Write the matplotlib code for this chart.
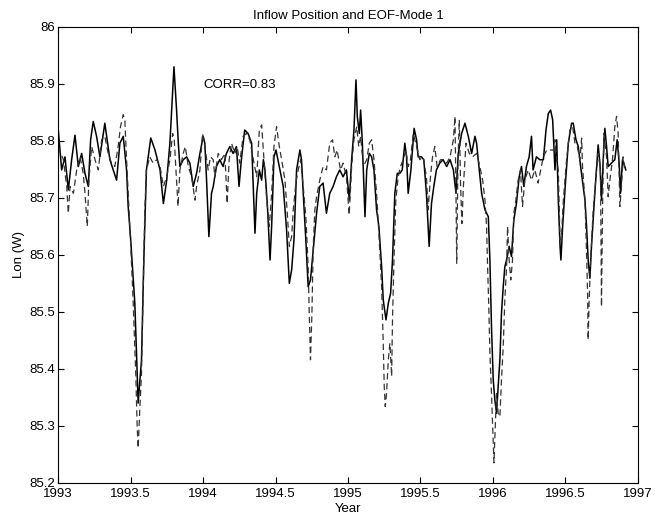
import matplotlib
matplotlib.use("Agg")
import matplotlib.pyplot as plt
import numpy as np

plt.rcParams['font.family'] = ['Liberation Sans', 'DejaVu Sans']

# inflow position (solid line)
inflow_year = [
    1993.000, 1993.024, 1993.047, 1993.070, 1993.093, 1993.116, 1993.139, 1993.162,
    1993.185, 1993.208, 1993.224, 1993.242, 1993.265, 1993.288, 1993.322, 1993.357,
    1993.403, 1993.426, 1993.449, 1993.472, 1993.483, 1993.499, 1993.529, 1993.552,
    1993.575, 1993.591, 1993.609, 1993.639, 1993.668, 1993.703, 1993.726, 1993.749,
    1993.771, 1993.799, 1993.817, 1993.829, 1993.840, 1993.863, 1993.886, 1993.909,
    1993.932, 1993.955, 1993.978, 1994.001, 1994.012, 1994.024, 1994.040, 1994.058,
    1994.070, 1994.092, 1994.115, 1994.138, 1994.161, 1994.184, 1994.207, 1994.230,
    1994.248, 1994.264, 1994.287, 1994.310, 1994.335, 1994.358, 1994.370, 1994.388,
    1994.404, 1994.416, 1994.427, 1994.443, 1994.462, 1994.473, 1994.489, 1994.503,
    1994.530, 1994.553, 1994.576, 1994.595, 1994.611, 1994.627, 1994.645, 1994.668,
    1994.679, 1994.691, 1994.709, 1994.725, 1994.741, 1994.760, 1994.783, 1994.805,
    1994.828, 1994.851, 1994.874, 1994.897, 1994.920, 1994.943, 1994.966, 1994.989,
    1995.009, 1995.025, 1995.041, 1995.055, 1995.064, 1995.078, 1995.087, 1995.099,
    1995.117, 1995.129, 1995.147, 1995.163, 1995.179, 1995.197, 1995.213, 1995.232,
    1995.243, 1995.262, 1995.278, 1995.294, 1995.307, 1995.323, 1995.340, 1995.358,
    1995.374, 1995.392, 1995.404, 1995.415, 1995.434, 1995.456, 1995.473, 1995.484,
    1995.507, 1995.523, 1995.541, 1995.560, 1995.576, 1995.592, 1995.610, 1995.633,
    1995.656, 1995.681, 1995.704, 1995.727, 1995.745, 1995.761, 1995.784, 1995.807,
    1995.830, 1995.853, 1995.876, 1995.887, 1995.906, 1995.922, 1995.945, 1995.968,
    1995.979, 1995.990, 1996.002, 1996.013, 1996.025, 1996.036, 1996.048, 1996.059,
    1996.071, 1996.082, 1996.094, 1996.112, 1996.128, 1996.144, 1996.162, 1996.181,
    1996.197, 1996.213, 1996.231, 1996.250, 1996.266, 1996.277, 1996.300, 1996.323,
    1996.348, 1996.366, 1996.382, 1996.398, 1996.412, 1996.428, 1996.440, 1996.451,
    1996.463, 1996.469, 1996.481, 1996.497, 1996.520, 1996.543, 1996.554, 1996.573,
    1996.589, 1996.605, 1996.623, 1996.635, 1996.646, 1996.657, 1996.669, 1996.680,
    1996.703, 1996.726, 1996.738, 1996.749, 1996.761, 1996.772, 1996.784, 1996.795,
    1996.818, 1996.841, 1996.857, 1996.871, 1996.880, 1996.894, 1996.910, 1996.917,
]
inflow_lon = [
    85.822, 85.749, 85.772, 85.714, 85.767, 85.810, 85.755, 85.778,
    85.743, 85.720, 85.802, 85.834, 85.808, 85.772, 85.831, 85.767,
    85.731, 85.796, 85.808, 85.749, 85.685, 85.632, 85.515, 85.340,
    85.416, 85.591, 85.749, 85.805, 85.784, 85.749, 85.690, 85.731,
    85.796, 85.930, 85.854, 85.796, 85.755, 85.767, 85.772, 85.761,
    85.720, 85.743, 85.778, 85.808, 85.796, 85.731, 85.632, 85.708,
    85.720, 85.755, 85.767, 85.755, 85.778, 85.790, 85.778, 85.790,
    85.720, 85.767, 85.819, 85.813, 85.796, 85.638, 85.708, 85.749,
    85.731, 85.767, 85.749, 85.690, 85.591, 85.650, 85.772, 85.784,
    85.749, 85.720, 85.644, 85.550, 85.574, 85.626, 85.749, 85.784,
    85.767, 85.708, 85.626, 85.544, 85.556, 85.609, 85.673, 85.720,
    85.726, 85.673, 85.708, 85.720, 85.737, 85.749, 85.737, 85.749,
    85.696, 85.767, 85.819, 85.907, 85.843, 85.813, 85.854, 85.796,
    85.667, 85.749, 85.778, 85.772, 85.749, 85.679, 85.650, 85.579,
    85.521, 85.486, 85.515, 85.533, 85.591, 85.708, 85.743, 85.743,
    85.749, 85.796, 85.772, 85.708, 85.749, 85.822, 85.802, 85.772,
    85.772, 85.767, 85.708, 85.615, 85.690, 85.720, 85.749, 85.761,
    85.767, 85.755, 85.767, 85.749, 85.708, 85.778, 85.813, 85.831,
    85.808, 85.778, 85.808, 85.796, 85.749, 85.708, 85.679, 85.667,
    85.591, 85.474, 85.381, 85.346, 85.322, 85.369, 85.416, 85.498,
    85.544, 85.579, 85.591, 85.615, 85.597, 85.661, 85.690, 85.737,
    85.755, 85.720, 85.755, 85.772, 85.808, 85.749, 85.772, 85.767,
    85.767, 85.819, 85.848, 85.854, 85.837, 85.749, 85.802, 85.696,
    85.615, 85.591, 85.650, 85.714, 85.796, 85.831, 85.831, 85.802,
    85.790, 85.755, 85.720, 85.696, 85.650, 85.591, 85.559, 85.615,
    85.708, 85.793, 85.761, 85.696, 85.767, 85.822, 85.790, 85.755,
    85.761, 85.767, 85.802, 85.761, 85.708, 85.767, 85.755, 85.749,
]

# EOF mode 1 (dashed line)
eof_year = [
    1993.000, 1993.036, 1993.059, 1993.070, 1993.082, 1993.105, 1993.128, 1993.151,
    1993.173, 1993.185, 1993.201, 1993.212, 1993.231, 1993.254, 1993.277, 1993.300,
    1993.322, 1993.345, 1993.368, 1993.391, 1993.414, 1993.430, 1993.449, 1993.460,
    1993.472, 1993.483, 1993.499, 1993.517, 1993.536, 1993.545, 1993.552, 1993.563,
    1993.575, 1993.586, 1993.598, 1993.609, 1993.632, 1993.655, 1993.680, 1993.703,
    1993.726, 1993.749, 1993.771, 1993.790, 1993.801, 1993.817, 1993.827, 1993.840,
    1993.863, 1993.877, 1993.898, 1993.921, 1993.944, 1993.955, 1993.978, 1993.996,
    1994.012, 1994.035, 1994.051, 1994.070, 1994.081, 1994.104, 1994.127, 1994.150,
    1994.166, 1994.180, 1994.196, 1994.219, 1994.235, 1994.253, 1994.276, 1994.299,
    1994.322, 1994.347, 1994.370, 1994.388, 1994.404, 1994.420, 1994.439, 1994.457,
    1994.473, 1994.489, 1994.507, 1994.526, 1994.542, 1994.565, 1994.581, 1994.595,
    1994.611, 1994.622, 1994.640, 1994.656, 1994.673, 1994.691, 1994.709, 1994.725,
    1994.732, 1994.741, 1994.751, 1994.760, 1994.771, 1994.783, 1994.805, 1994.828,
    1994.851, 1994.874, 1994.893, 1994.909, 1994.925, 1994.948, 1994.966, 1994.989,
    1995.008, 1995.025, 1995.041, 1995.060, 1995.074, 1995.087, 1995.106, 1995.129,
    1995.147, 1995.163, 1995.179, 1995.197, 1995.213, 1995.232, 1995.243, 1995.250,
    1995.257, 1995.266, 1995.278, 1995.289, 1995.301, 1995.307, 1995.317, 1995.330,
    1995.346, 1995.362, 1995.381, 1995.399, 1995.415, 1995.431, 1995.450, 1995.473,
    1995.495, 1995.518, 1995.541, 1995.553, 1995.569, 1995.583, 1995.599, 1995.615,
    1995.638, 1995.661, 1995.681, 1995.704, 1995.727, 1995.738, 1995.745, 1995.750,
    1995.759, 1995.768, 1995.777, 1995.786, 1995.796, 1995.814, 1995.837, 1995.860,
    1995.887, 1995.910, 1995.929, 1995.945, 1995.956, 1995.963, 1995.970, 1995.979,
    1995.990, 1996.002, 1996.007, 1996.016, 1996.025, 1996.036, 1996.048, 1996.059,
    1996.071, 1996.082, 1996.094, 1996.101, 1996.110, 1996.123, 1996.135, 1996.144,
    1996.158, 1996.174, 1996.190, 1996.204, 1996.220, 1996.243, 1996.266, 1996.289,
    1996.312, 1996.334, 1996.348, 1996.371, 1996.394, 1996.417, 1996.428, 1996.440,
    1996.451, 1996.463, 1996.474, 1996.486, 1996.508, 1996.531, 1996.550, 1996.566,
    1996.582, 1996.600, 1996.612, 1996.618, 1996.635, 1996.646, 1996.653, 1996.657,
    1996.664, 1996.674, 1996.692, 1996.715, 1996.726, 1996.742, 1996.749, 1996.756,
    1996.765, 1996.784, 1996.795, 1996.807, 1996.825, 1996.841, 1996.853, 1996.864,
    1996.876, 1996.887, 1996.898, 1996.910,
]
eof_lon = [
    85.790, 85.767, 85.720, 85.673, 85.720, 85.708, 85.749, 85.772,
    85.743, 85.708, 85.650, 85.731, 85.790, 85.767, 85.749, 85.802,
    85.808, 85.778, 85.761, 85.755, 85.790, 85.825, 85.846, 85.837,
    85.767, 85.708, 85.626, 85.521, 85.387, 85.299, 85.261, 85.328,
    85.392, 85.533, 85.679, 85.749, 85.772, 85.761, 85.767, 85.755,
    85.720, 85.737, 85.767, 85.813, 85.802, 85.731, 85.685, 85.749,
    85.778, 85.790, 85.755, 85.737, 85.696, 85.720, 85.749, 85.813,
    85.790, 85.749, 85.772, 85.767, 85.737, 85.778, 85.767, 85.778,
    85.690, 85.767, 85.796, 85.778, 85.790, 85.761, 85.808, 85.813,
    85.802, 85.767, 85.737, 85.819, 85.828, 85.767, 85.696, 85.650,
    85.708, 85.790, 85.825, 85.790, 85.767, 85.731, 85.673, 85.615,
    85.632, 85.679, 85.726, 85.749, 85.767, 85.720, 85.667, 85.579,
    85.503, 85.416, 85.498, 85.615, 85.679, 85.702, 85.731, 85.755,
    85.749, 85.796, 85.802, 85.772, 85.784, 85.749, 85.761, 85.737,
    85.670, 85.755, 85.802, 85.825, 85.790, 85.808, 85.755, 85.767,
    85.796, 85.802, 85.767, 85.708, 85.638, 85.544, 85.445, 85.369,
    85.334, 85.357, 85.416, 85.445, 85.387, 85.486, 85.591, 85.696,
    85.737, 85.755, 85.767, 85.784, 85.755, 85.767, 85.813, 85.790,
    85.767, 85.772, 85.737, 85.679, 85.737, 85.772, 85.790, 85.755,
    85.767, 85.767, 85.761, 85.772, 85.802, 85.843, 85.708, 85.585,
    85.767, 85.837, 85.720, 85.655, 85.720, 85.796, 85.778, 85.772,
    85.778, 85.755, 85.731, 85.696, 85.650, 85.579, 85.521, 85.428,
    85.357, 85.270, 85.235, 85.299, 85.357, 85.322, 85.316, 85.381,
    85.439, 85.521, 85.579, 85.650, 85.597, 85.556, 85.591, 85.673,
    85.696, 85.731, 85.749, 85.685, 85.731, 85.749, 85.731, 85.749,
    85.726, 85.755, 85.772, 85.784, 85.784, 85.784, 85.802, 85.767,
    85.749, 85.626, 85.638, 85.696, 85.767, 85.819, 85.825, 85.796,
    85.790, 85.767, 85.805, 85.755, 85.696, 85.603, 85.533, 85.451,
    85.521, 85.591, 85.679, 85.749, 85.778, 85.749, 85.509, 85.679,
    85.813, 85.772, 85.702, 85.731, 85.767, 85.825, 85.843, 85.813,
    85.685, 85.720, 85.772, 85.749,
]

corr_text = "CORR=0.83"

fig = plt.figure(figsize=(6.61, 5.17), dpi=100)
ax = fig.add_axes([0.088, 0.066, 0.877, 0.882])

ax.plot(inflow_year, inflow_lon, color='black', linewidth=1.1)
ax.plot(eof_year, eof_lon, color='#333333', linewidth=0.9, linestyle=(0, (5, 3)))

ax.set_xlim(1993, 1997)
ax.set_ylim(85.2, 86)
xt = np.arange(1993, 1997.01, 0.5)
yt = np.arange(85.2, 86.01, 0.1)
ax.set_xticks(xt)
ax.set_yticks(yt)
ax.set_xticklabels(['%g' % t for t in xt])
ax.set_yticklabels(['%g' % round(t, 1) for t in yt])
ax.tick_params(direction='in', top=True, right=True, length=4, labelsize=9.5)
ax.tick_params(axis='x', pad=4)
ax.tick_params(axis='y', pad=2)

ax.text(1994.0, 85.898, corr_text, ha='left', va='center', fontsize=9.5)

ax.set_title("Inflow Position and EOF-Mode 1", fontsize=9.5, pad=6)
ax.set_xlabel("Year", fontsize=9.5, labelpad=2)
ax.set_ylabel("Lon (W)", fontsize=9.5, labelpad=3)

fig.savefig("out.png", dpi=100)
